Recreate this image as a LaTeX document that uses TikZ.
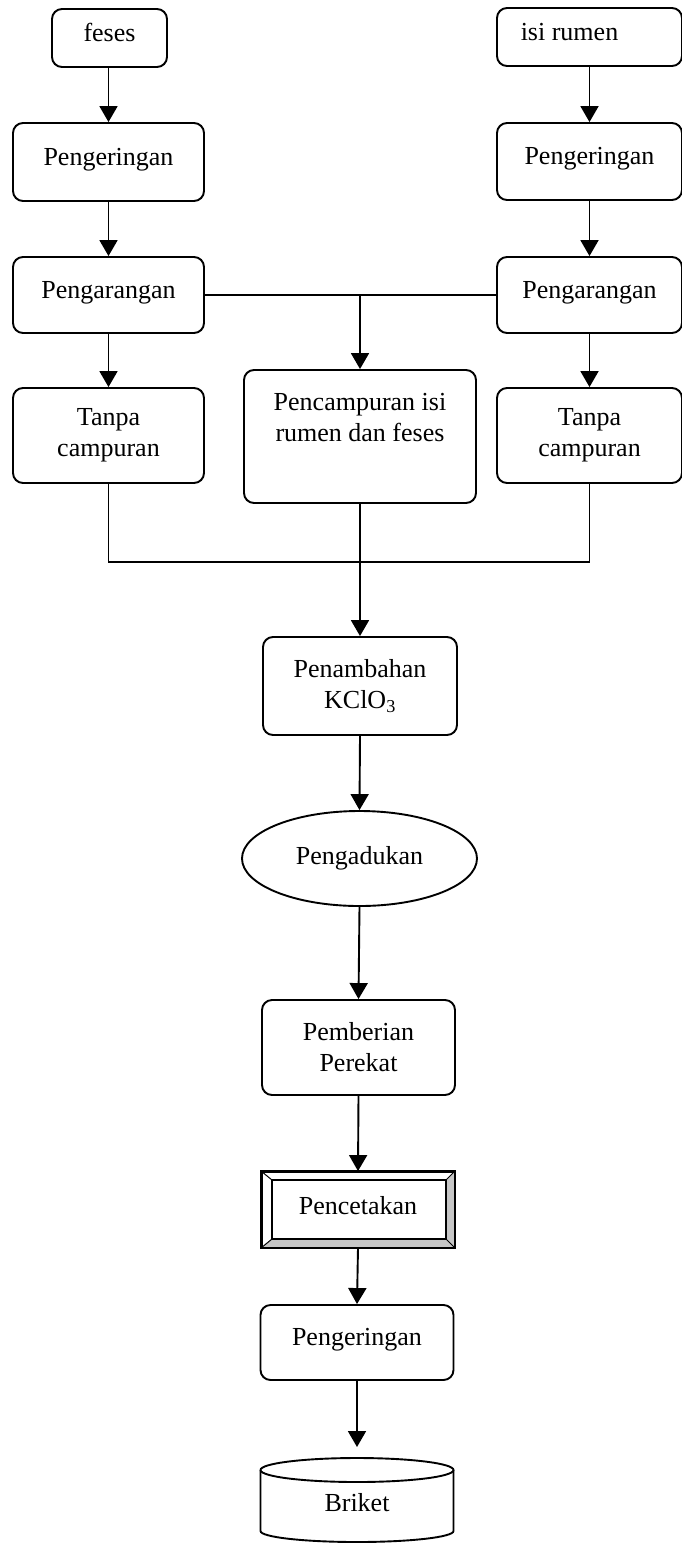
\documentclass[tikz,border=0pt]{standalone}
\usepackage{fontspec}
\setmainfont{Liberation Serif}
\usetikzlibrary{arrows.meta,shapes.geometric,calc}
\begin{document}
\begin{tikzpicture}[x=1pt,y=-1pt,
  every node/.style={font=\fontsize{26}{31}\selectfont},
  box/.style={draw, rounded corners=10pt, line width=1.9pt, align=center, inner sep=0pt},
  onebox/.style={box, text height=18pt, text depth=12pt},
  conn/.style={line width=1.9pt},
  arr/.style={conn, -{Triangle[length=16pt,width=18pt]}}]
\useasboundingbox (0,0) rectangle (682,1543);
\fill[white] (0,0) rectangle (682,1543);

% top row
\node[onebox, minimum width=115pt, minimum height=58pt] (feses) at (109.5,38) {feses};
\node[onebox, minimum width=185pt, minimum height=58pt] (isi) at (589.5,37) {isi rumen\hspace*{40pt}};
\node[onebox, minimum width=191pt, minimum height=78pt] (pengL) at (108.5,162) {Pengeringan};
\node[onebox, minimum width=185pt, minimum height=77pt] (pengR) at (589.5,161.5) {Pengeringan};
\node[onebox, minimum width=191pt, minimum height=76pt] (pgL) at (108.5,295) {Pengarangan};
\node[onebox, minimum width=185pt, minimum height=76pt] (pgR) at (589.5,295) {Pengarangan};
\node[box, minimum width=191pt, minimum height=95pt] (tL) at (108.5,435.5) {Tanpa\\campuran};
\node[box, minimum width=232pt, minimum height=133pt] (pcmp) at (360,436.5) {};
\node[align=center, inner sep=0pt] (pcmpt) at (360,418) {Pencampuran isi\\rumen dan feses};
\node[box, minimum width=185pt, minimum height=95pt] (tR) at (589.5,435.5) {Tanpa\\campuran};

% central chain
\node[box, minimum width=194pt, minimum height=98pt] (penam) at (360,686) {Penambahan\\KClO\textsubscript{3}};
\node[draw, ellipse, line width=1.9pt, inner sep=0pt, minimum width=235pt, minimum height=95pt] (aduk) at (359.5,858.5) {Pengadukan};
\node[box, minimum width=193pt, minimum height=95pt] (pemb) at (358.5,1047.5) {Pemberian\\Perekat};
\node[draw, line width=1.9pt, minimum width=192pt, minimum height=75pt, inner sep=0pt] (cetak) at (358,1209.5) {};
\coordinate (ci1) at ($(cetak.north west)+(11,9)$);
\coordinate (ci2) at ($(cetak.south east)+(-9,-9)$);
\fill[gray!45] (cetak.south west) -- (cetak.south east) -- (ci2) -- (ci1 |- ci2) -- cycle;
\fill[gray!45] (cetak.north east) -- (cetak.south east) -- (ci2) -- (ci2 |- ci1) -- cycle;
\draw[line width=1.3pt] (ci1) rectangle (ci2);
\draw[line width=1pt] (cetak.north west) -- (ci1) (cetak.south east) -- (ci2)
  (cetak.north east) -- (ci2 |- ci1) (cetak.south west) -- (ci1 |- ci2);
\draw[line width=1.9pt] (cetak.north west) rectangle (cetak.south east);
\node[inner sep=0pt] (cetakt) at (358,1206) {Pencetakan};
\node[onebox, minimum width=193pt, minimum height=75pt] (kerB) at (357,1342.5) {Pengeringan};

% Briket cylinder
\draw[line width=1.9pt] (260.5,1470) arc[start angle=180, end angle=-180, x radius=96.5, y radius=12];
\draw[line width=1.9pt] (260.5,1470) -- (260.5,1531) arc[start angle=180, end angle=0, x radius=96.5, y radius=11] -- (453.5,1470);
\node[inner sep=0pt] (briket) at (357,1503) {Briket};
\coordinate (btop) at (357,1447);

% connectors
\draw[arr] (feses.south -| pengL.north) -- (pengL.north);
\draw[arr] (pengL.south) -- (pgL.north);
\draw[arr] (pgL.south) -- (tL.north);
\draw[arr] (isi.south) -- (pengR.north);
\draw[arr] (pengR.south) -- (pgR.north);
\draw[arr] (pgR.south) -- (tR.north);
\draw[conn] (pgL.east) -- (pgR.west);
\draw[arr] (pgL.east -| pcmp.north) -- (pcmp.north);
\coordinate (j) at (360,562);
\draw[conn] (tL.south) |- (j) -| (tR.south);
\draw[arr] (pcmp.south) -- (penam.north);
\draw[arr] (penam.south) -- (aduk.north);
\draw[arr] (aduk.south) -- (pemb.north);
\draw[arr] (pemb.south) -- (cetak.north);
\draw[arr] (cetak.south) -- (kerB.north);
\draw[arr] (kerB.south) -- (btop);
\end{tikzpicture}
\end{document}
